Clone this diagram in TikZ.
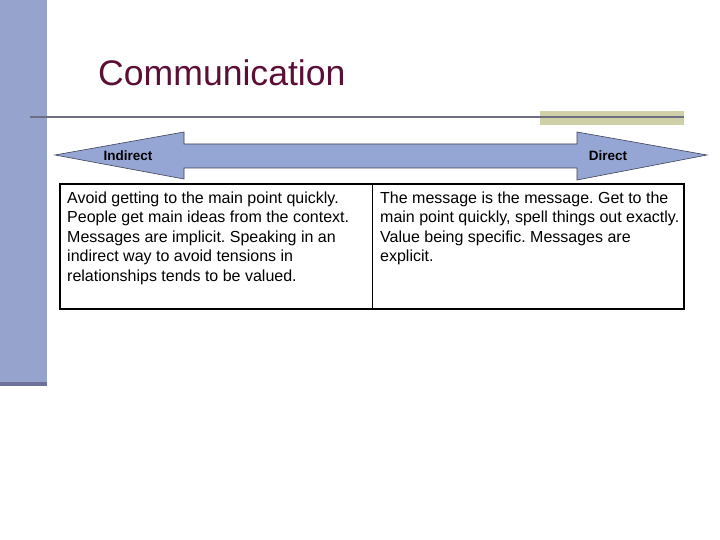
\documentclass[tikz,border=0pt]{standalone}
\usepackage{fontspec}
\setmainfont{Liberation Sans}
\definecolor{barblue}{HTML}{95A3CD}
\definecolor{bardark}{HTML}{6E719A}
\definecolor{arrowblue}{HTML}{96A6D4}
\definecolor{olive}{HTML}{CFCFA8}
\definecolor{rulegray}{HTML}{6F6F84}
\definecolor{titlered}{HTML}{5C0F35}
\tikzset{
  celltext/.style={anchor=north west, inner sep=0pt, align=left, font=\fontsize{16}{19.5}\selectfont\frenchspacing},
  arrowlabel/.style={inner sep=0pt, font=\fontsize{13.5}{16}\selectfont\bfseries},
}
\begin{document}
\begin{tikzpicture}[x=1pt,y=-1pt]
\useasboundingbox (0,0) rectangle (720,540);
\fill[white] (0,0) rectangle (720,540);
% left bar
\fill[barblue] (0,0) rectangle (47,382);
\fill[bardark] (0,382) rectangle (47,386);
% title
\node[anchor=west, inner sep=0pt, text=titlered, font=\fontsize{35.6}{40}\selectfont] (title) at (98,73) {Communication};
% rule and olive block
\fill[olive] (540,111) rectangle (684,125);
\draw[rulegray, line width=2pt] (30,117) -- (684,117);
% double arrow
\draw[arrowblue!40!black, line width=0.6pt, fill=arrowblue]
  (55,155) -- (184,132) -- (184,144) -- (577,144) -- (577,132) -- (707,155)
  -- (577,180) -- (577,168) -- (184,168) -- (184,179) -- cycle;
\node[arrowlabel] (indirect) at (128,156) {Indirect};
\node[arrowlabel] (direct) at (608,156) {Direct};
% table
\draw[line width=0.8pt] (372,184) -- (372,309);
\draw[line width=2pt] (60,184) rectangle (684,309);
\node[celltext] (left) at (67,191.5) {Avoid getting to the main point quickly.\\People get main ideas from the context.\\Messages are implicit. Speaking in an\\indirect way to avoid tensions in\\relationships tends to be valued.};
\node[celltext] (right) at (380,191.5) {The message is the message. Get to the\\main point quickly, spell things out exactly.\\Value being specific. Messages are\\explicit.};
\end{tikzpicture}
\end{document}
